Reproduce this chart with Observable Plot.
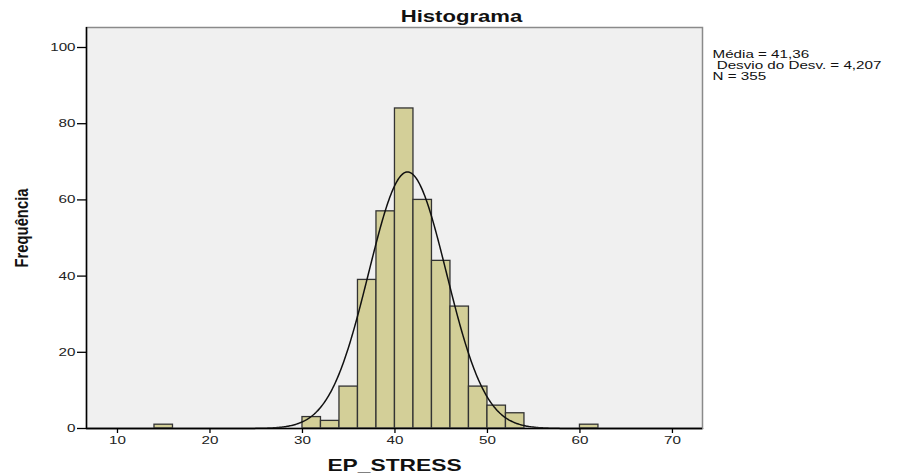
<!DOCTYPE html>
<html><head><meta charset="utf-8">
<script src="https://cdn.jsdelivr.net/npm/d3@7"></script>
<script src="https://cdn.jsdelivr.net/npm/@observablehq/plot@0.6"></script>
<style>
body{margin:0;background:#fff;}
#chart svg{display:block;font-family:"Liberation Sans",Arial,sans-serif;}
#chart svg text{white-space:pre;}
</style>
</head><body><div id="chart"></div>
<script>
// Histogram bins (width 2) and their frequencies
const binStart = [14, 30, 32, 34, 36, 38, 40, 42, 44, 46, 48, 50, 52, 60];
const binCounts = [1, 3, 2, 11, 39, 57, 84, 60, 44, 32, 11, 6, 4, 1];
const binWidth = 2;
const xTicks = [10, 20, 30, 40, 50, 60, 70];
const yTicks = [0, 20, 40, 60, 80, 100];
const statMean = 41.36, statSd = 4.207, statN = 355;
const statLines = ["Média = 41,36", " Desvio do Desv. = 4,207", "N = 355"];
const titleText = "Histograma";
const xLabel = "EP_STRESS";
const yLabel = "Frequência";

const xDomain = [6.65, 73.25];
const yDomain = [0, 105.25];

// fitted normal curve from the stated mean / sd / N
const curve = d3.range(xDomain[0], xDomain[1] + 0.001, 0.1).map(x => ({
  x,
  y: statN * binWidth * Math.exp(-0.5 * ((x - statMean) / statSd) ** 2) / (statSd * Math.sqrt(2 * Math.PI))
}));

const bars = binStart.map((s, i) => ({x1: s, x2: s + binWidth, y: binCounts[i]}));

const chart = Plot.plot({
  width: 898,
  height: 474,
  marginLeft: 86,
  marginRight: 196,
  marginTop: 27,
  marginBottom: 46,
  style: {fontFamily: "Liberation Sans, Arial, sans-serif", background: "#fff", color: "#222"},
  x: {domain: xDomain},
  y: {domain: yDomain},
  marks: [
    Plot.frame({fill: "#f0f0f0", stroke: null}),
    Plot.rectY(bars, {x1: "x1", x2: "x2", y: "y", fill: "#d3cf98", stroke: "#333", strokeWidth: 1.3, inset: 0}),
    Plot.line(curve, {x: "x", y: "y", stroke: "#111", strokeWidth: 1.5}),
    Plot.frame({stroke: "#8a8a8a", strokeWidth: 1.5}),
    Plot.ruleX([xDomain[0]], {stroke: "#000", strokeWidth: 1.5}),
    Plot.ruleY([0], {stroke: "#000", strokeWidth: 1.5}),
    Plot.axisX({ticks: xTicks, tickSize: 5, tickPadding: 3, fontSize: 11, label: null, stroke: "#000", strokeWidth: 1.3}),
    Plot.axisY({ticks: yTicks, tickSize: 9, tickPadding: 2, fontSize: 11, label: null, stroke: "#000", strokeWidth: 1.3}),
    Plot.text([titleText], {frameAnchor: "top", lineAnchor: "middle", textAnchor: "middle", dx: 67, dy: -11, fontSize: 16, fontWeight: "bold", fill: "#111"}),
    Plot.text([xLabel], {frameAnchor: "bottom", lineAnchor: "middle", textAnchor: "middle", dy: 37, fontSize: 16.5, fontWeight: "bold", fill: "#111"}),
    Plot.text([yLabel], {frameAnchor: "left", lineAnchor: "middle", textAnchor: "middle", dx: -64, rotate: -90, fontSize: 18, fontWeight: "bold", fill: "#111"}),
    ...statLines.map((t, i) => Plot.text([t], {frameAnchor: "top-right", lineAnchor: "middle", textAnchor: "start", dx: 10, dy: 27 + i * 11, fontSize: 11, fill: "#111"}))
  ]
});

document.getElementById("chart").appendChild(chart);

// the reference's text is horizontally widened; mimic by stretching glyphs
const stretch = 1.38;
chart.querySelectorAll("text").forEach(t => {
  const w = t.getComputedTextLength();
  if (!(w > 0)) return;
  // the rotated label is widened across its glyphs, so it keeps its length but uses a taller face
  const len = t.textContent === yLabel ? 79 : w * stretch;
  t.setAttribute("textLength", len.toFixed(1));
  t.setAttribute("lengthAdjust", "spacingAndGlyphs");
});
</script>
</body></html>
